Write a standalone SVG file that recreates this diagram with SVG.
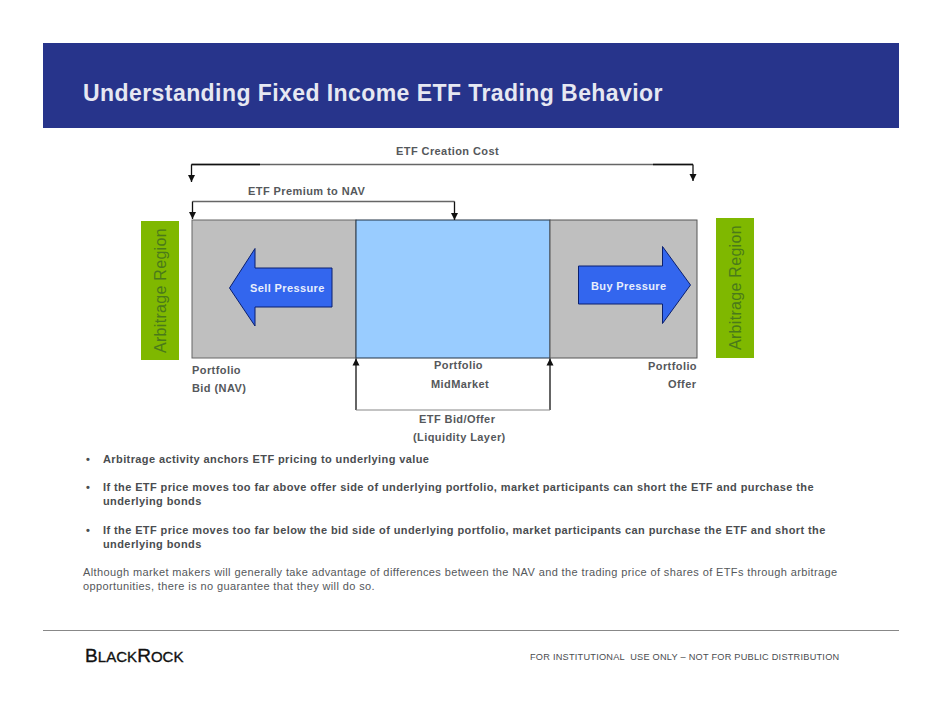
<svg xmlns="http://www.w3.org/2000/svg" width="942" height="728" viewBox="0 0 942 728">
<defs>
<marker id="ah" markerUnits="userSpaceOnUse" markerWidth="8" markerHeight="8" refX="7" refY="4" orient="auto"><path d="M0,0.500 L7,4 L0,7.500 Z" fill="#111"/></marker>
</defs>
<style>
text{font-family:"Liberation Sans",Arial,sans-serif}
.l{font-size:11px;font-weight:bold;fill:#55585b;letter-spacing:.42px}
.b{font-size:11px;font-weight:bold;fill:#4a4d50;letter-spacing:.4px}
.p{font-size:11px;fill:#55585b;letter-spacing:.385px}
.r{font-size:16px;fill:#4a7a1a;letter-spacing:.3px}
.w{font-size:11px;font-weight:bold;fill:#e8eefc;letter-spacing:.38px}
.c{fill:none;stroke:#666;stroke-width:1.3}
.a{fill:none;stroke:#111;stroke-width:1.3}
</style>
<rect width="942" height="728" fill="#fff"/>
<g id="header">
<rect x="43" y="43" width="856" height="85" fill="#27348b"/>
<text x="83" y="101" font-size="23" font-weight="bold" fill="#e6e8f2" letter-spacing=".43">Understanding Fixed Income ETF Trading Behavior</text>
</g>
<g id="arb-left"><rect x="141" y="221" width="38" height="139" fill="#7fb800"/><text class="r" transform="translate(166,353) rotate(-90)">Arbitrage Region</text></g>
<g id="arb-right"><rect x="716" y="218" width="38" height="140" fill="#7fb800"/><text class="r" transform="translate(741,350) rotate(-90)">Arbitrage Region</text></g>
<g id="bid-zone"><rect x="192" y="220" width="164" height="138" fill="#bfbfbf" stroke="#666"/></g>
<g id="mid-zone"><rect x="356" y="220" width="194" height="138" fill="#99ccff" stroke="#234"/></g>
<g id="offer-zone"><rect x="550" y="220" width="147" height="138" fill="#bfbfbf" stroke="#555"/></g>
<g id="sell-pressure"><path d="M332,268 H255 V248.500 L229.500,288 L255,326 V307 H332 Z" fill="#3366ee" stroke="#0a1f6e"/><text class="w" x="250" y="292">Sell Pressure</text></g>
<g id="buy-pressure"><path d="M578.500,266 H662.500 V246.500 L690.500,285 L662.500,323.500 V304 H578.500 Z" fill="#3366ee" stroke="#0a1f6e"/><text class="w" x="591" y="290">Buy Pressure</text></g>
<g id="connectors">
<path class="c" d="M191.500,164.500 H693"/>
<path class="a" d="M260,164.500 H191.500"/>
<path class="a" d="M653,164.500 H693"/>
<path class="a" marker-end="url(#ah)" d="M191.500,164.500 V182"/>
<path class="a" marker-end="url(#ah)" d="M693,164.500 V181"/>
<path class="c" d="M192.500,201.500 H454.500"/>
<path class="a" marker-end="url(#ah)" d="M192.500,201.500 V219"/>
<path class="a" marker-end="url(#ah)" d="M454.500,201.500 V220"/>
<path class="a" marker-end="url(#ah)" d="M356,410 V358.500"/>
<path class="a" marker-end="url(#ah)" d="M550,410 V358.500"/>
<path d="M356,410 H550" fill="none" stroke="#888" stroke-width="1.2"/>
</g>
<g id="labels">
<text class="l" x="396" y="155">ETF Creation Cost</text>
<text class="l" x="248" y="195">ETF Premium to NAV</text>
<text class="l" x="192" y="374">Portfolio</text>
<text class="l" x="192" y="392">Bid (NAV)</text>
<text class="l" x="434" y="369">Portfolio</text>
<text class="l" x="431" y="388">MidMarket</text>
<text class="l" x="648" y="370">Portfolio</text>
<text class="l" x="668" y="388">Offer</text>
<text class="l" x="419" y="423">ETF Bid/Offer</text>
<text class="l" x="413" y="441">(Liquidity Layer)</text>
</g>
<g id="body">
<text class="b" x="86" y="463">•</text><text class="b" x="103" y="463">Arbitrage activity anchors ETF pricing to underlying value</text>
<text class="b" x="86" y="491">•</text><text class="b" x="103" y="491">If the ETF price moves too far above offer side of underlying portfolio, market participants can short the ETF and purchase the</text>
<text class="b" x="103" y="505">underlying bonds</text>
<text class="b" x="86" y="534">•</text><text class="b" x="103" y="534">If the ETF price moves too far below the bid side of underlying portfolio, market participants can purchase the ETF and short the</text>
<text class="b" x="103" y="548">underlying bonds</text>
<text class="p" x="83" y="576">Although market makers will generally take advantage of differences between the NAV and the trading price of shares of ETFs through arbitrage</text>
<text class="p" x="83" y="590">opportunities, there is no guarantee that they will do so.</text>
</g>
<g id="footer">
<path d="M43,630.500 H899" stroke="#888" stroke-width="1"/>
<text x="85" y="662" font-size="19" fill="#111" stroke="#111" stroke-width=".35" letter-spacing=".05">B<tspan font-size="15">LACK</tspan>R<tspan font-size="15">OCK</tspan></text>
<text x="530" y="660" font-size="9.200" fill="#4a4d50" letter-spacing=".24" xml:space="preserve">FOR INSTITUTIONAL  USE ONLY – NOT FOR PUBLIC DISTRIBUTION</text>
</g>
</svg>
